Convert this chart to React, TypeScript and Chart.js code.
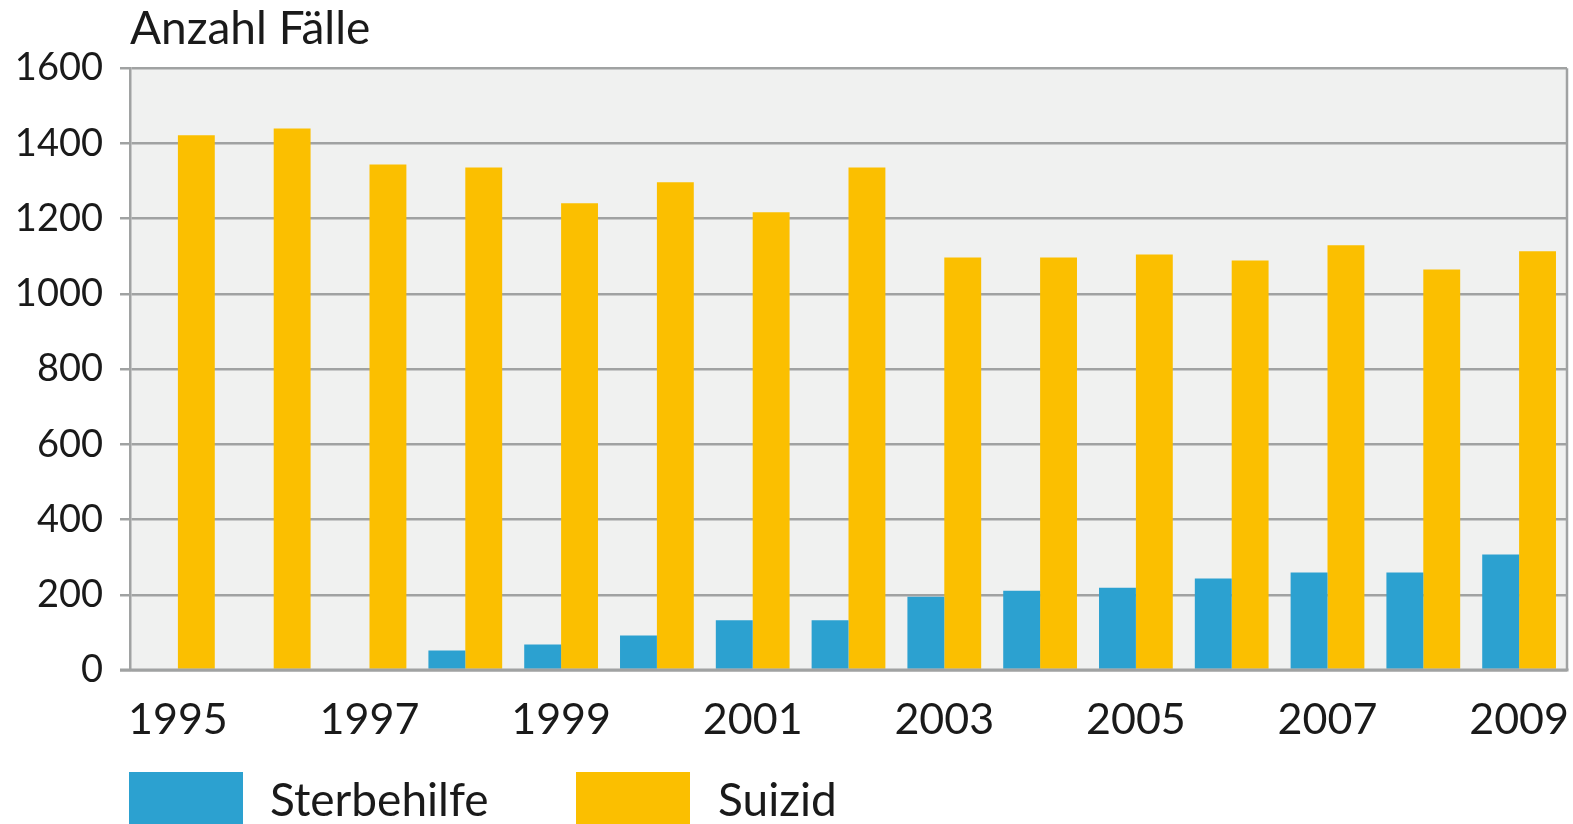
import React, { useEffect, useRef } from "react";
import { Chart, registerables } from "chart.js";

Chart.register(...registerables);

const years = ["1995","1996","1997","1998","1999","2000","2001","2002","2003","2004","2005","2006","2007","2008","2009"];
const sterbehilfe = [0, 0, 0, 52, 68, 92, 132, 132, 195, 211, 219, 243, 259, 259, 307];
const suizid = [1422, 1440, 1344, 1336, 1241, 1297, 1217, 1336, 1097, 1097, 1105, 1089, 1129, 1065, 1113];
const yTicks = [0, 200, 400, 600, 800, 1000, 1200, 1400, 1600];
const seriesNames = ["Sterbehilfe", "Suizid"];
const seriesColors = ["#2ca1d0", "#fbbf00"];

const GRID = "#a0a2a2";
const TEXT = "#1a1a1a";
const FONT = "Lato";

const plotDecor = {
  id: "plotDecor",
  beforeDraw(chart: any) {
    const { ctx, chartArea } = chart;
    ctx.save();
    ctx.fillStyle = "#f0f1f0";
    ctx.fillRect(chartArea.left, chartArea.top, chartArea.right - chartArea.left, chartArea.bottom - chartArea.top);
    ctx.restore();
  },
  afterDatasetsDraw(chart: any) {
    const { ctx, chartArea } = chart;
    ctx.save();
    ctx.strokeStyle = GRID;
    ctx.lineWidth = 3;
    ctx.beginPath();
    ctx.moveTo(chartArea.left - 10, chartArea.bottom);
    ctx.lineTo(chartArea.right + 1.5, chartArea.bottom);
    ctx.stroke();
    ctx.lineWidth = 2.5;
    ctx.beginPath();
    ctx.moveTo(chartArea.right, chartArea.top);
    ctx.lineTo(chartArea.right, chartArea.bottom);
    ctx.stroke();
    // legend
    const boxes = [129, 576];
    const texts = [270, 718];
    ctx.font = `46px ${FONT}`;
    ctx.textBaseline = "alphabetic";
    ctx.textAlign = "left";
    chart.data.datasets.forEach((ds: any, i: number) => {
      ctx.fillStyle = ds.backgroundColor;
      ctx.fillRect(boxes[i], 772, 114, 60);
      ctx.fillStyle = TEXT;
      ctx.fillText(ds.label, texts[i], 816);
    });
    ctx.restore();
  },
};

export default function App() {
  const ref = useRef<HTMLCanvasElement>(null);
  useEffect(() => {
    if (!ref.current) return;
    const chart = new Chart(ref.current, {
      type: "bar",
      data: {
        labels: years,
        datasets: [
          { label: seriesNames[0], data: sterbehilfe, backgroundColor: seriesColors[0], categoryPercentage: 0.77, barPercentage: 1.0 },
          { label: seriesNames[1], data: suizid, backgroundColor: seriesColors[1], categoryPercentage: 0.77, barPercentage: 1.0 },
        ],
      },
      options: {
        responsive: false,
        animation: false,
        layout: { padding: { left: 0, right: 6, top: 0, bottom: 84 } },
        plugins: {
          legend: { display: false },
          tooltip: { enabled: false },
          title: {
            display: true,
            text: "Anzahl Fälle",
            align: "start",
            fullSize: false,
            color: TEXT,
            font: { family: FONT, size: 46, weight: "normal" },
            padding: { top: 2, bottom: 11 },
          },
        },
        scales: {
          x: {
            grid: { display: false, drawTicks: false },
            border: { display: false },
            ticks: {
              autoSkip: false,
              maxRotation: 0,
              padding: 24,
              color: TEXT,
              font: { family: FONT, size: 43 },
              callback: (_v: any, i: number) => (i % 2 === 0 ? years[i] : ""),
            },
            afterFit: (s: any) => { s.height = 70; s.paddingLeft = 0; s.paddingRight = 0; },
          },
          y: {
            min: 0,
            max: 1600,
            afterBuildTicks: (s: any) => { s.ticks = yTicks.map((v) => ({ value: v })); },
            grid: { color: GRID, lineWidth: 2.5, tickLength: 10, drawTicks: true },
            border: { display: true, color: GRID, width: 2.5 },
            ticks: {
              padding: 17,
              color: TEXT,
              font: { family: FONT, size: 38 },
              callback: (v: any) => String(v),
            },
            afterFit: (s: any) => { s.width = 130; },
          },
        },
      },
      plugins: [plotDecor],
    });
    return () => chart.destroy();
  }, []);
  return (
    <div style={{ position: "fixed", left: 0, top: 0, width: 1573, height: 824, background: "#fff" }}>
      <canvas ref={ref} width={1573} height={824} />
    </div>
  );
}
